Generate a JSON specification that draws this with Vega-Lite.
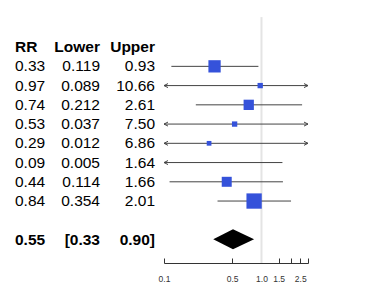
{
  "$schema": "https://vega.github.io/schema/vega-lite/v6.json",
  "padding": 0,
  "spacing": 0,
  "bounds": "flush",
  "config": {"view": {"stroke": null}, "font": "Liberation Sans"},
  "datasets": {
    "studies": [
      {"row": 1, "rr": 0.33, "lower": 0.119, "upper": 0.93, "weight": 22.4},
      {"row": 2, "rr": 0.97, "lower": 0.089, "upper": 10.66, "weight": 4.2},
      {"row": 3, "rr": 0.74, "lower": 0.212, "upper": 2.61, "weight": 15.7},
      {"row": 4, "rr": 0.53, "lower": 0.037, "upper": 7.50, "weight": 4.2},
      {"row": 5, "rr": 0.29, "lower": 0.012, "upper": 6.86, "weight": 3.3},
      {"row": 6, "rr": 0.09, "lower": 0.005, "upper": 1.64, "weight": 0.7},
      {"row": 7, "rr": 0.44, "lower": 0.114, "upper": 1.66, "weight": 14.8},
      {"row": 8, "rr": 0.84, "lower": 0.354, "upper": 2.01, "weight": 34.7}
    ],
    "boldText": [
      {"row": 0, "col": "RR", "label": "RR"},
      {"row": 0, "col": "Lower", "label": "Lower"},
      {"row": 0, "col": "Upper", "label": "Upper"},
      {"row": 10, "col": "RR", "label": "0.55"},
      {"row": 10, "col": "Lower", "label": "[0.33"},
      {"row": 10, "col": "Upper", "label": "0.90]"}
    ],
    "diamond": [
      {"value": 0.32, "top": 0, "bottom": 0},
      {"value": 0.51, "top": 1, "bottom": -1},
      {"value": 0.84, "top": 0, "bottom": 0}
    ]
  },
  "hconcat": [
    {
      "width": 164,
      "height": 263,
      "layer": [
        {
          "data": {"name": "studies"},
          "mark": {"type": "text", "align": "left", "baseline": "middle", "fontSize": 15.5, "color": "#000"},
          "encoding": {
            "x": {"datum": "RR", "type": "nominal", "bandPosition": 0,
                  "scale": {"type": "band", "domain": ["RR", "Lower", "Upper"], "range": [15, 155], "paddingInner": 0.4545, "paddingOuter": 0},
                  "axis": null},
            "y": {"field": "row", "type": "quantitative", "scale": {"domain": [-2.448, 11.22], "reverse": true, "nice": false, "zero": false}, "axis": null},
            "text": {"field": "rr", "format": ".2f"}
          }
        },
        {
          "data": {"name": "studies"},
          "mark": {"type": "text", "align": "right", "baseline": "middle", "fontSize": 15.5, "color": "#000"},
          "encoding": {
            "x": {"datum": "Lower", "type": "nominal", "bandPosition": 1, "axis": null},
            "y": {"field": "row", "type": "quantitative", "axis": null},
            "text": {"field": "lower", "format": ".3f"}
          }
        },
        {
          "data": {"name": "studies"},
          "mark": {"type": "text", "align": "right", "baseline": "middle", "fontSize": 15.5, "color": "#000"},
          "encoding": {
            "x": {"datum": "Upper", "type": "nominal", "bandPosition": 1, "axis": null},
            "y": {"field": "row", "type": "quantitative", "axis": null},
            "text": {"field": "upper", "format": ".2f"}
          }
        },
        {
          "data": {"name": "boldText"},
          "transform": [{"filter": "datum.col == 'RR'"}],
          "mark": {"type": "text", "align": "left", "baseline": "middle", "fontSize": 15.5, "fontWeight": "bold", "color": "#000"},
          "encoding": {
            "x": {"field": "col", "type": "nominal", "bandPosition": 0, "axis": null},
            "y": {"field": "row", "type": "quantitative", "axis": null},
            "text": {"field": "label"}
          }
        },
        {
          "data": {"name": "boldText"},
          "transform": [{"filter": "datum.col != 'RR'"}],
          "mark": {"type": "text", "align": "right", "baseline": "middle", "fontSize": 15.5, "fontWeight": "bold", "color": "#000"},
          "encoding": {
            "x": {"field": "col", "type": "nominal", "bandPosition": 1, "axis": null},
            "y": {"field": "row", "type": "quantitative", "axis": null},
            "text": {"field": "label"}
          }
        }
      ]
    },
    {
      "width": 144,
      "height": 263,
      "layer": [
        {
          "layer": [
            {
              "data": {"values": [{}]},
              "mark": {"type": "rule", "color": "#e4e4e4", "strokeWidth": 2},
              "encoding": {
                "x": {"datum": 1, "type": "quantitative",
                      "scale": {"type": "log", "domain": [0.1, 3], "nice": false, "clamp": true},
                      "axis": {"values": [0.1, 0.5, 1, 1.5, 2, 2.5, 3], "labelExpr": "datum.value == 2 || datum.value == 3 ? '' : format(datum.value, '.1f')",
                               "title": null, "grid": false, "domainColor": "#333", "tickColor": "#333", "tickSize": -5,
                               "labelFontSize": 8.5, "labelColor": "#333", "labelPadding": 16, "labelFlush": false, "labelOverlap": false}},
                "y": {"datum": -1.56, "type": "quantitative", "scale": {"domain": [-2.448, 11.22], "reverse": true, "nice": false, "zero": false}, "axis": null},
                "y2": {"datum": 11.22}
              }
            },
            {
              "data": {"name": "studies"},
              "mark": {"type": "rule", "color": "#444", "strokeWidth": 1},
              "encoding": {
                "x": {"field": "lower", "type": "quantitative"},
                "x2": {"field": "upper"},
                "y": {"field": "row", "type": "quantitative"}
              }
            },
            {
              "data": {"name": "studies"},
              "transform": [{"filter": "datum.lower < 0.1"}],
              "mark": {"type": "point", "shape": "M2,-1L0,0L2,1", "filled": false, "stroke": "#444", "strokeWidth": 1, "size": 16, "opacity": 1},
              "encoding": {
                "x": {"field": "lower", "type": "quantitative"},
                "y": {"field": "row", "type": "quantitative"}
              }
            },
            {
              "data": {"name": "studies"},
              "transform": [{"filter": "datum.upper > 3"}],
              "mark": {"type": "point", "shape": "M-2,-1L0,0L-2,1", "filled": false, "stroke": "#444", "strokeWidth": 1, "size": 16, "opacity": 1},
              "encoding": {
                "x": {"field": "upper", "type": "quantitative"},
                "y": {"field": "row", "type": "quantitative"}
              }
            },
            {
              "data": {"name": "studies"},
              "transform": [{"filter": "datum.rr >= 0.1"}],
              "mark": {"type": "point", "shape": "square", "filled": true, "color": "#3552DA", "opacity": 1},
              "encoding": {
                "x": {"field": "rr", "type": "quantitative"},
                "y": {"field": "row", "type": "quantitative"},
                "size": {"field": "weight", "type": "quantitative", "scale": {"domain": [0, 40], "range": [0, 270]}, "legend": null}
              }
            }
          ]
        },
        {
          "data": {"name": "diamond"},
          "mark": {"type": "area", "color": "#000", "orient": "vertical"},
          "encoding": {
            "x": {"field": "value", "type": "quantitative"},
            "y": {"field": "top", "type": "quantitative", "scale": {"domain": [-2.37, 23.93], "nice": false, "zero": false}, "axis": null},
            "y2": {"field": "bottom"}
          }
        }
      ],
      "resolve": {"scale": {"y": "independent"}}
    }
  ]
}
